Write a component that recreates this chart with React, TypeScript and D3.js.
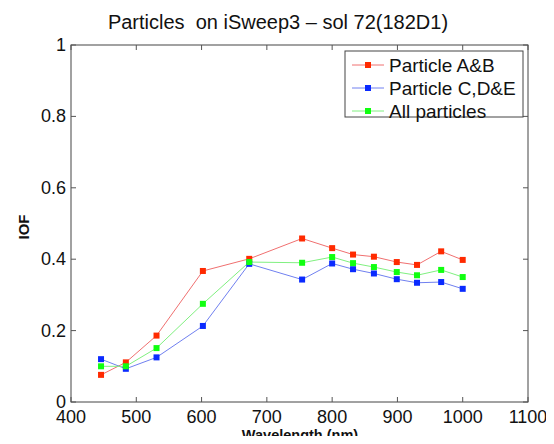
import * as d3 from "d3";
import React, { useRef, useEffect } from "react";

const wavelengths = [446, 484, 531, 602, 673, 754, 800, 832, 864, 899, 930, 967, 1000];
const particleAB = [0.076, 0.111, 0.186, 0.367, 0.401, 0.458, 0.431, 0.413, 0.407, 0.392, 0.384, 0.422, 0.398];
const particleCDE = [0.12, 0.093, 0.125, 0.213, 0.387, 0.343, 0.388, 0.372, 0.36, 0.344, 0.334, 0.336, 0.317];
const allParticles = [0.1, 0.1, 0.151, 0.275, 0.392, 0.39, 0.406, 0.389, 0.378, 0.364, 0.355, 0.37, 0.35];

const seriesNames = ["Particle A&B", "Particle C,D&E", "All particles"];
const seriesColors = ["#ff2a00", "#0a2aff", "#10ff10"];
const lineColors = ["#f07070", "#7080f0", "#80f080"];

const xTicks = [400, 500, 600, 700, 800, 900, 1000, 1100];
const yTicks = [0, 0.2, 0.4, 0.6, 0.8, 1];

function App() {
  const ref = useRef<SVGSVGElement>(null);

  useEffect(() => {
    const svg = d3.select(ref.current);
    svg.selectAll("*").remove();
    draw(svg);
  }, []);

  const draw = (svg: any) => {
    const width = 554, height = 444;
    const left = 71, right = 528, top = 45, bottom = 402;
    const font = "'Liberation Sans', Arial, Helvetica, sans-serif";

    svg.attr("width", width).attr("height", height).style("display", "block")
      .style("font-family", font);

    const x = d3.scaleLinear().domain([400, 1100]).range([left, right]);
    const y = d3.scaleLinear().domain([0, 1]).range([bottom, top]);

    svg.append("rect").attr("width", width).attr("height", height).attr("fill", "#fff");

    // axes box
    svg.append("rect")
      .attr("x", left).attr("y", top)
      .attr("width", right - left).attr("height", bottom - top)
      .attr("fill", "none").attr("stroke", "#444").attr("stroke-width", 1);

    const tk = 5;
    // ticks on all four sides, pointing in
    xTicks.forEach((t) => {
      svg.append("line").attr("x1", x(t)).attr("x2", x(t))
        .attr("y1", bottom).attr("y2", bottom - tk).attr("stroke", "#555");
      svg.append("line").attr("x1", x(t)).attr("x2", x(t))
        .attr("y1", top).attr("y2", top + tk).attr("stroke", "#555");
      svg.append("text").attr("x", x(t)).attr("y", bottom + 21)
        .attr("text-anchor", "middle").attr("font-size", 18).attr("fill", "#111")
        .text(t);
    });
    yTicks.forEach((t) => {
      svg.append("line").attr("x1", left).attr("x2", left + tk)
        .attr("y1", y(t)).attr("y2", y(t)).attr("stroke", "#555");
      svg.append("line").attr("x1", right).attr("x2", right - tk)
        .attr("y1", y(t)).attr("y2", y(t)).attr("stroke", "#555");
      svg.append("text").attr("x", left - 5).attr("y", y(t) + 6)
        .attr("text-anchor", "end").attr("font-size", 18).attr("fill", "#111")
        .text(d3.format("")(t));
    });

    // title and labels
    svg.append("text").attr("x", 278).attr("y", 29)
      .attr("text-anchor", "middle").attr("font-size", 20).attr("fill", "#111")
      .style("white-space", "pre")
      .text("Particles  on iSweep3 \u2013 sol 72(182D1)");
    svg.append("text").attr("x", 300).attr("y", 440)
      .attr("text-anchor", "middle").attr("font-size", 14.5).attr("font-weight", "bold")
      .attr("fill", "#111").text("Wavelength (nm)");
    svg.append("text")
      .attr("transform", "translate(29," + 227 + ") rotate(-90)")
      .attr("text-anchor", "middle").attr("font-size", 15).attr("font-weight", "bold")
      .attr("fill", "#111").text("IOF");

    const data = [particleAB, particleCDE, allParticles];
    const line = d3.line<number>()
      .x((d, i) => x(wavelengths[i]))
      .y((d) => y(d));

    data.forEach((vals, k) => {
      svg.append("path").datum(vals)
        .attr("fill", "none").attr("stroke", lineColors[k]).attr("stroke-width", 1)
        .attr("d", line);
    });
    data.forEach((vals, k) => {
      svg.selectAll(null).data(vals).enter().append("rect")
        .attr("x", (d: number, i: number) => x(wavelengths[i]) - 3)
        .attr("y", (d: number) => y(d) - 3)
        .attr("width", 6).attr("height", 6)
        .attr("fill", seriesColors[k]);
    });

    // legend
    const lg = svg.append("g");
    lg.append("rect").attr("x", 345).attr("y", 51).attr("width", 178).attr("height", 66)
      .attr("fill", "#fff").attr("stroke", "#444");
    seriesNames.forEach((name, k) => {
      const ly = 65 + k * 23;
      lg.append("line").attr("x1", 352).attr("x2", 384).attr("y1", ly).attr("y2", ly)
        .attr("stroke", lineColors[k]);
      lg.append("rect").attr("x", 365).attr("y", ly - 3).attr("width", 6).attr("height", 6)
        .attr("fill", seriesColors[k]);
      lg.append("text").attr("x", 389).attr("y", ly + 6.5).attr("font-size", 19)
        .attr("fill", "#111").text(name);
    });
  };

  return (
    <div style={{ margin: -8 }}>
      <svg ref={ref}></svg>
    </div>
  );
}

export default App;
